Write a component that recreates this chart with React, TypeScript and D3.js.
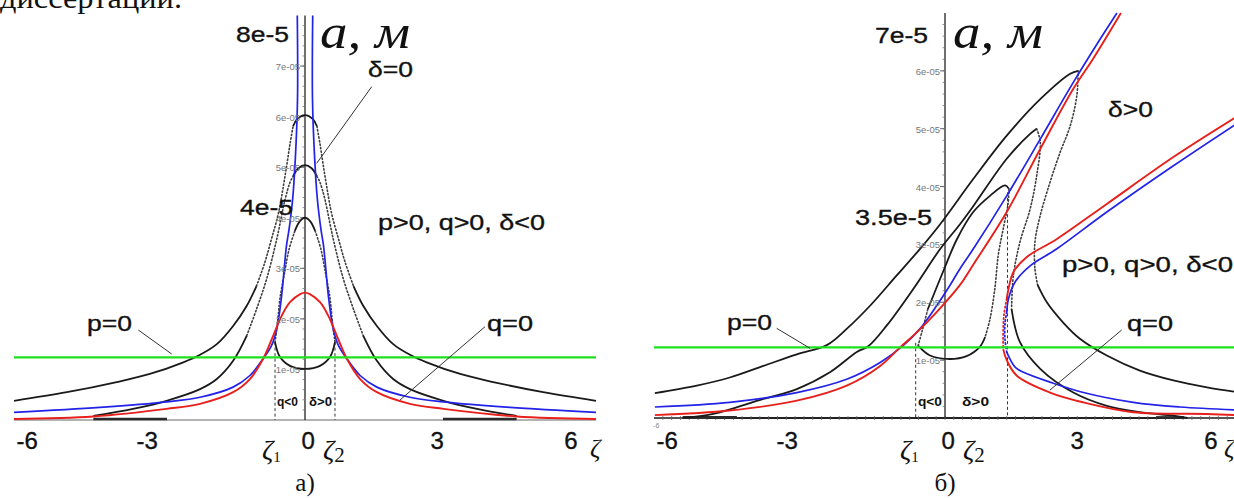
import { useEffect, useRef } from 'react'
import * as d3 from 'd3'

type Pt = [number, number]

const W = 1234
const H = 498

// amplitude a is in units of 1e-5 m, ζ is the detuning

// ---------- panel а) ----------
const A6_WING_L: Pt[] = [[-6.6, 0.38], [-5.4, 0.55], [-4.27, 0.75], [-3.52, 0.91], [-2.76, 1.14], [-2.38, 1.29], [-2.0, 1.5], [-1.63, 1.86], [-1.32, 2.26], [-1.1, 2.65]]
const A6_FLANK_L: Pt[] = [[-1.1, 2.65], [-0.91, 3.12], [-0.76, 3.58], [-0.6, 4.1], [-0.49, 4.63], [-0.41, 5.06], [-0.34, 5.46], [-0.27, 5.81]]
const A6_CAP: Pt[] = [[-0.27, 5.81], [-0.18, 5.95], [0, 6.03], [0.18, 5.95], [0.27, 5.81]]
const A6_FLANK_R: Pt[] = [[0.27, 5.81], [0.34, 5.46], [0.41, 5.06], [0.49, 4.63], [0.6, 4.1], [0.76, 3.58], [0.91, 3.12], [1.1, 2.65]]
const A6_WING_R: Pt[] = [[1.1, 2.65], [1.32, 2.26], [1.63, 1.86], [2.0, 1.5], [2.38, 1.29], [2.76, 1.14], [3.52, 0.91], [4.27, 0.75], [5.4, 0.55], [6.6, 0.38]]

const A5_WING_L: Pt[] = [[-4.8, 0.08], [-3.9, 0.22], [-3.14, 0.38], [-2.38, 0.61], [-2.0, 0.81], [-1.63, 1.17], [-1.32, 1.67]]
const A5_FLANK_L: Pt[] = [[-1.32, 1.67], [-1.1, 2.19], [-0.87, 2.79], [-0.64, 3.58], [-0.45, 4.37], [-0.34, 4.7], [-0.27, 4.82]]
const A5_CAP: Pt[] = [[-0.27, 4.82], [-0.15, 4.98], [0, 5.04], [0.15, 4.98], [0.27, 4.82]]
const A5_FLANK_R: Pt[] = [[0.27, 4.82], [0.34, 4.7], [0.45, 4.37], [0.64, 3.58], [0.87, 2.79], [1.1, 2.19], [1.32, 1.67]]
const A5_WING_R: Pt[] = [[1.32, 1.67], [1.63, 1.17], [2.0, 0.81], [2.38, 0.61], [3.14, 0.38], [3.9, 0.22], [4.8, 0.08]]

const A4_CAP: Pt[] = [[-0.23, 3.74], [-0.12, 3.93], [0, 4.0], [0.12, 3.93], [0.23, 3.74]]
const A4_FLANK_L: Pt[] = [[-0.68, 1.54], [-0.62, 1.95], [-0.57, 2.39], [-0.45, 2.98], [-0.36, 3.38], [-0.23, 3.74]]
const A4_FLANK_R: Pt[] = [[0.23, 3.74], [0.36, 3.38], [0.45, 2.98], [0.57, 2.39], [0.62, 1.95], [0.68, 1.54]]
const A4_LOOP: Pt[] = [[-0.68, 1.54], [-0.57, 1.25], [-0.34, 1.07], [0, 1.01], [0.34, 1.07], [0.57, 1.25], [0.68, 1.54]]

const A_RED: Pt[] = [[-6.6, 0.02], [-4.8, 0.07], [-3.14, 0.22], [-2.38, 0.32], [-1.63, 0.55], [-1.25, 0.81], [-0.95, 1.21], [-0.72, 1.67], [-0.53, 2.06], [-0.34, 2.33], [-0.11, 2.49], [0, 2.52], [0.11, 2.49], [0.34, 2.33], [0.53, 2.06], [0.72, 1.67], [0.95, 1.21], [1.25, 0.81], [1.63, 0.55], [2.38, 0.32], [3.14, 0.22], [4.8, 0.07], [6.6, 0.02]]
const A_BLUE_L: Pt[] = [[-6.6, 0.15], [-4.65, 0.25], [-3.14, 0.36], [-2.38, 0.45], [-1.63, 0.65], [-1.25, 0.88], [-0.95, 1.21], [-0.76, 1.47], [-0.64, 1.8], [-0.53, 2.46], [-0.42, 3.45], [-0.36, 3.78], [-0.28, 4.37], [-0.22, 5.16], [-0.17, 6.34], [-0.175, 8.0]]
const A_BLUE_R: Pt[] = [[6.6, 0.15], [4.65, 0.25], [3.14, 0.36], [2.38, 0.45], [1.63, 0.65], [1.25, 0.88], [0.95, 1.21], [0.76, 1.47], [0.64, 1.8], [0.53, 2.46], [0.42, 3.45], [0.36, 3.78], [0.28, 4.37], [0.22, 5.16], [0.17, 6.34], [0.175, 8.0]]
const A_AXIS_DARK: Pt[][] = [[[-4.8, 0.02], [-3.13, 0.02]], [[3.13, 0.02], [4.8, 0.02]]]
const A_P0 = 1.24
const A_ZETA: Pt[] = [[-0.68, 1.54], [0.68, 1.54]]

// ---------- panel б) ----------
const B6_UPPER: Pt[] = [[-6.58, 0.43], [-5.63, 0.56], [-4.88, 0.7], [-4.12, 0.9], [-3.36, 1.1], [-2.68, 1.26], [-2.23, 1.54], [-1.7, 1.94], [-1.1, 2.46], [-0.57, 2.92], [-0.11, 3.35], [0.64, 4.13], [1.4, 4.88], [2.16, 5.51], [2.84, 5.95], [3.02, 6.0]]
const B6_MID: Pt[] = [[3.02, 6.0], [2.99, 5.57], [2.84, 5.05], [2.61, 4.59], [2.38, 4.07], [2.16, 3.5], [2.04, 3.04], [2.04, 2.58], [2.1, 2.3]]
const B6_LOWER: Pt[] = [[2.1, 2.3], [2.31, 2.0], [2.68, 1.65], [3.06, 1.37], [3.67, 1.08], [4.42, 0.82], [5.18, 0.65], [5.94, 0.53], [6.6, 0.45]]

const B5_UPPER: Pt[] = [[-5.95, 0.0], [-5.26, 0.07], [-4.12, 0.33], [-3.36, 0.5], [-2.61, 0.79], [-2.0, 1.14], [-1.74, 1.24], [-1.32, 1.6], [-0.72, 2.23], [-0.11, 2.92], [0.34, 3.35], [0.64, 3.66], [1.4, 4.48], [1.93, 4.91], [2.08, 5.0]]
const B5_MID: Pt[] = [[2.08, 5.0], [2.16, 4.77], [2.08, 4.19], [1.93, 3.61], [1.7, 3.04], [1.55, 2.46], [1.51, 1.88]]
const B5_LOWER: Pt[] = [[1.51, 1.88], [1.7, 1.31], [2.16, 0.85], [2.91, 0.44], [3.67, 0.21], [4.42, 0.1], [5.18, 0.04], [5.5, 0.0]]

const B4_UPPER: Pt[] = [[-0.39, 1.88], [0, 2.61], [0.27, 3.09], [0.64, 3.56], [1.02, 3.84], [1.36, 4.02], [1.45, 3.96]]
const B4_MID: Pt[] = [[1.45, 3.96], [1.43, 3.7], [1.32, 3.27], [1.21, 2.83], [1.13, 2.23], [1.02, 1.71], [0.91, 1.4]]
const B4_LOOP: Pt[] = [[0.91, 1.4], [0.79, 1.23], [0.49, 1.07], [0.11, 1.02], [-0.34, 1.08], [-0.61, 1.25]]
const B4_RISE: Pt[] = [[-0.61, 1.25], [-0.52, 1.5], [-0.39, 1.88]]

const B_BLUE_L: Pt[] = [[-6.58, 0.19], [-4.88, 0.27], [-3.36, 0.44], [-2.23, 0.67], [-1.47, 0.96], [-0.95, 1.25], [-0.57, 1.54], [-0.19, 1.94], [0.11, 2.29], [0.34, 2.58], [0.64, 2.92], [1.4, 3.84], [2.16, 4.82], [2.91, 5.8], [3.52, 6.55], [3.9, 7.0]]
const B_RED_L: Pt[] = [[-6.58, 0.05], [-4.88, 0.13], [-3.36, 0.3], [-2.23, 0.56], [-1.47, 0.9], [-1.02, 1.22], [-0.64, 1.48], [-0.19, 1.83], [0.34, 2.3], [0.64, 2.65], [1.4, 3.56], [2.16, 4.65], [2.91, 5.69], [3.36, 6.21], [3.99, 7.0]]
const B_BLUE_R_UP: Pt[] = [[6.6, 5.08], [5.18, 4.36], [3.67, 3.56], [2.53, 2.92], [1.93, 2.63], [1.59, 2.35], [1.44, 2.06], [1.4, 1.83]]
const B_BLUE_R_MID: Pt[] = [[1.4, 1.83], [1.36, 1.63], [1.36, 1.37], [1.4, 1.14]]
const B_BLUE_R_LOW: Pt[] = [[1.4, 1.14], [1.59, 0.88], [1.78, 0.79], [2.38, 0.62], [3.14, 0.44], [4.27, 0.27], [5.33, 0.19], [6.6, 0.14]]
const B_RED_R_UP: Pt[] = [[6.6, 5.2], [5.18, 4.51], [3.67, 3.7], [2.53, 3.09], [1.85, 2.78], [1.55, 2.52], [1.44, 2.23], [1.4, 2.06]]
const B_RED_R_MID: Pt[] = [[1.4, 2.06], [1.34, 1.8], [1.32, 1.54], [1.32, 1.19]]
const B_RED_R_LOW: Pt[] = [[1.32, 1.19], [1.4, 1.0], [1.63, 0.73], [2.38, 0.44], [3.14, 0.27], [4.27, 0.1], [5.94, 0.07], [6.6, 0.05]]
const B_AXIS_DARK: Pt[][] = [[[-5.95, 0.01], [-4.72, 0.01]], [[4.79, 0.01], [5.42, 0.01]]]
const B_P0 = 1.22
const B_ZETA: Pt[] = [[-0.665, 1.3], [1.418, 3.9]]

const X_TICK_TEXT = ['-6', '-3', '0', '3', '6']
const X_TICK_AT = [-6.3, -3.58, 0.07, 3, 6.03]
const A_Y_TICKS = [1, 2, 3, 4, 5, 6, 7]
const B_Y_TICKS = [1, 2, 3, 4, 5, 6]

const STYLE: Record<string, { stroke: string; width: number; dash?: string }> = {
  black: { stroke: '#1a1a1a', width: 1.8 },
  dots: { stroke: '#3c3c3c', width: 1.6, dash: '1.3,2.3' },
  blue: { stroke: '#2222e8', width: 1.7 },
  blueDots: { stroke: '#2222e8', width: 1.8, dash: '1.3,2.6' },
  red: { stroke: '#e8201c', width: 1.9 },
  redDots: { stroke: '#e8201c', width: 1.8, dash: '1.3,2.6' },
  axisDark: { stroke: '#2a2a2a', width: 2.6 },
}

const SANS = 'Liberation Sans, Arial, sans-serif'
const SERIF = 'Liberation Serif, Times New Roman, serif'

export default function App() {
  const ref = useRef<SVGSVGElement>(null)

  useEffect(() => {
    const svg = d3.select(ref.current)
    svg.selectAll('*').remove()
    svg.append('rect').attr('width', W).attr('height', H).attr('fill', '#fff')

    const text = (x: number, y: number, s: string, o: any = {}) => {
      const t = svg.append('text')
        .attr('x', x).attr('y', y)
        .attr('font-family', o.family || SANS)
        .attr('font-size', o.size || 22)
        .attr('fill', o.fill || '#111')
        .attr('text-anchor', o.anchor || 'start')
        .text(s)
      if (o.italic) t.attr('font-style', 'italic')
      if (o.bold) t.attr('font-weight', 'bold')
      if (o.heavy) t.attr('stroke', o.fill || '#111').attr('stroke-width', o.heavy)
      if (o.len) t.attr('textLength', o.len).attr('lengthAdjust', 'spacingAndGlyphs')
      return t
    }

    // cropped line of page text above the figure
    text(0, 8, 'диссертации.', { family: SERIF, size: 30, len: 182 })

    const panels = [
      {
        x: d3.scaleLinear().domain([-6.6, 6.6]).range([14, 596]),
        y: d3.scaleLinear().domain([0, 8]).range([420, 15.5]),
        yTop: 8, yTicks: A_Y_TICKS, p0: A_P0, zeta: A_ZETA, dark: A_AXIS_DARK,
        axisColor: '#9a9a9a', xRight: 6.6,
        series: [
          { k: 'black', d: A6_WING_L }, { k: 'dots', d: A6_FLANK_L }, { k: 'black', d: A6_CAP }, { k: 'dots', d: A6_FLANK_R }, { k: 'black', d: A6_WING_R },
          { k: 'black', d: A5_WING_L }, { k: 'dots', d: A5_FLANK_L }, { k: 'black', d: A5_CAP }, { k: 'dots', d: A5_FLANK_R }, { k: 'black', d: A5_WING_R },
          { k: 'black', d: A4_CAP }, { k: 'dots', d: A4_FLANK_L }, { k: 'dots', d: A4_FLANK_R }, { k: 'black', d: A4_LOOP },
          { k: 'blue', d: A_BLUE_L }, { k: 'blue', d: A_BLUE_R }, { k: 'red', d: A_RED },
        ],
      },
      {
        x: d3.scaleLinear().domain([-6.6, 6.6]).range([654, 1236]),
        y: d3.scaleLinear().domain([0, 7]).range([418, 13]),
        yTop: 7, yTicks: B_Y_TICKS, p0: B_P0, zeta: B_ZETA, dark: B_AXIS_DARK,
        axisColor: '#555', xRight: 6.6,
        series: [
          { k: 'black', d: B6_UPPER }, { k: 'dots', d: B6_MID }, { k: 'black', d: B6_LOWER },
          { k: 'black', d: B5_UPPER }, { k: 'dots', d: B5_MID }, { k: 'black', d: B5_LOWER },
          { k: 'black', d: B4_UPPER }, { k: 'dots', d: B4_MID }, { k: 'black', d: B4_LOOP }, { k: 'dots', d: B4_RISE },
          { k: 'blue', d: B_BLUE_L }, { k: 'red', d: B_RED_L },
          { k: 'blue', d: B_BLUE_R_UP }, { k: 'blueDots', d: B_BLUE_R_MID }, { k: 'blue', d: B_BLUE_R_LOW },
          { k: 'red', d: B_RED_R_UP }, { k: 'redDots', d: B_RED_R_MID }, { k: 'red', d: B_RED_R_LOW },
        ],
      },
    ]

    panels.forEach((p, pi) => {
      const { x, y } = p
      const g = svg.append('g')
      const line = d3.line<Pt>().x((d) => x(d[0])).y((d) => y(d[1])).curve(d3.curveCatmullRom.alpha(0.5))

      // horizontal axis
      g.append('line')
        .attr('x1', x(-6.6)).attr('x2', x(p.xRight)).attr('y1', y(0)).attr('y2', y(0))
        .attr('stroke', p.axisColor).attr('stroke-width', pi === 0 ? 1.5 : 1.8)
      if (pi === 1) {
        g.append('line')
          .attr('x1', x(-5.4)).attr('x2', x(5.4)).attr('y1', y(0)).attr('y2', y(0))
          .attr('stroke', '#222').attr('stroke-width', 2)
        d3.range(-6.4, 6.5, 0.2).forEach((v) => {
          g.append('line').attr('x1', x(v)).attr('x2', x(v)).attr('y1', y(0) - 2).attr('y2', y(0) + 2)
            .attr('stroke', '#666').attr('stroke-width', 0.8)
        })
        text(x(-6.55), 428, '-6', { size: 7, fill: '#888', anchor: 'middle' })
      }

      // vertical axis with Maple-style ticks
      g.append('line')
        .attr('x1', x(0)).attr('x2', x(0)).attr('y1', y(0)).attr('y2', y(p.yTop))
        .attr('stroke', '#333').attr('stroke-width', 1.4)
      d3.range(0.2, p.yTop, 0.2).forEach((v) => {
        g.append('line').attr('x1', x(0) - 2.5).attr('x2', x(0) + 1).attr('y1', y(v)).attr('y2', y(v))
          .attr('stroke', '#777').attr('stroke-width', 0.8)
      })
      p.yTicks.forEach((v) => {
        g.append('line').attr('x1', x(0) - 5).attr('x2', x(0)).attr('y1', y(v)).attr('y2', y(v))
          .attr('stroke', '#666').attr('stroke-width', 1)
        text(x(0) - 5, y(v) + 4, `${v}e-05`, { size: 9.5, fill: '#777', anchor: 'end' })
      })

      // dark stretches lying on the axis
      p.dark.forEach((seg) => {
        g.append('path').attr('d', line(seg)).attr('fill', 'none')
          .attr('stroke', STYLE.axisDark.stroke).attr('stroke-width', STYLE.axisDark.width)
      })

      // ζ1, ζ2 dashed verticals
      p.zeta.forEach(([z, top]) => {
        g.append('line').attr('x1', x(z)).attr('x2', x(z)).attr('y1', y(top)).attr('y2', y(0))
          .attr('stroke', '#333').attr('stroke-width', 1).attr('stroke-dasharray', '3,2.5')
      })

      p.series.forEach((s) => {
        const st = STYLE[s.k]
        const path = g.append('path').attr('d', line(s.d)).attr('fill', 'none')
          .attr('stroke', st.stroke).attr('stroke-width', st.width)
          .attr('stroke-linecap', st.dash ? 'round' : 'butt')
        if (st.dash) path.attr('stroke-dasharray', st.dash)
      })

      // p = 0
      g.append('line')
        .attr('x1', x(-6.6)).attr('x2', x(p.xRight)).attr('y1', y(p.p0)).attr('y2', y(p.p0))
        .attr('stroke', '#1fe01f').attr('stroke-width', 2.3)

      // x tick labels
      X_TICK_TEXT.forEach((t, i) => {
        text(x(X_TICK_AT[i]), 449, t, { size: 24, anchor: 'middle', heavy: 0.35 })
      })
    })

    const leader = (x1: number, y1: number, x2: number, y2: number) =>
      svg.append('line').attr('x1', x1).attr('y1', y1).attr('x2', x2).attr('y2', y2)
        .attr('stroke', '#333').attr('stroke-width', 1)

    const big = { heavy: 0.35 }

    // panel а) annotations
    text(289, 42, '8e-5', { ...big, anchor: 'end', len: 53 })
    text(320, 48, 'a, м', { family: SERIF, size: 48, italic: true, len: 90 })
    text(368, 77, 'δ=0', { ...big, len: 45 })
    leader(371.7, 86.7, 316.7, 163.3)
    text(293, 215, '4e-5', { ...big, anchor: 'end', len: 53 })
    text(378, 230, 'p>0, q>0, δ<0', { ...big, len: 167 })
    text(87, 331, 'p=0', { ...big, len: 45 })
    leader(138.3, 330, 171.7, 354)
    text(487, 331, 'q=0', { ...big, len: 46 })
    leader(485, 326.7, 400, 400)
    text(277, 406, 'q<0', { size: 12, bold: true, len: 21 })
    text(309, 406, 'δ>0', { size: 12, bold: true, len: 23 })
    const z1a = text(262, 459, 'ζ', { family: SERIF, size: 28, italic: true })
    z1a.append('tspan').attr('font-style', 'normal').attr('font-size', 15).attr('dy', 3).text('1')
    const z2a = text(323, 459, 'ζ', { family: SERIF, size: 28, italic: true })
    z2a.append('tspan').attr('font-style', 'normal').attr('font-size', 21).attr('dy', 3).text('2')
    text(590, 457, 'ζ', { family: SERIF, size: 26, italic: true })
    text(305, 491, 'а)', { family: SERIF, size: 25, anchor: 'middle' })

    // panel б) annotations
    text(928, 43, '7e-5', { ...big, anchor: 'end', len: 53 })
    text(953, 48, 'a, м', { family: SERIF, size: 48, italic: true, len: 90 })
    text(1108, 117, 'δ>0', { ...big, len: 45 })
    text(932, 225, '3.5e-5', { ...big, anchor: 'end', len: 77 })
    text(1062, 272, 'p>0, q>0, δ<0', { ...big, len: 171 })
    text(727, 330, 'p=0', { ...big, len: 45 })
    leader(776.7, 328.3, 810, 348.3)
    text(1127, 331, 'q=0', { ...big, len: 46 })
    leader(1121.7, 330, 1050, 390)
    text(918, 406, 'q<0', { size: 12, bold: true, len: 24 })
    text(962, 406, 'δ>0', { size: 12, bold: true, len: 27 })
    const z1b = text(900, 459, 'ζ', { family: SERIF, size: 28, italic: true })
    z1b.append('tspan').attr('font-style', 'normal').attr('font-size', 15).attr('dy', 3).text('1')
    const z2b = text(963, 459, 'ζ', { family: SERIF, size: 28, italic: true })
    z2b.append('tspan').attr('font-style', 'normal').attr('font-size', 21).attr('dy', 3).text('2')
    text(1224, 457, 'ζ', { family: SERIF, size: 26, italic: true })
    text(945, 491, 'б)', { family: SERIF, size: 25, anchor: 'middle' })
  }, [])

  return (
    <svg
      ref={ref}
      width={W}
      height={H}
      style={{ position: 'absolute', left: 0, top: 0, display: 'block' }}
    />
  )
}
